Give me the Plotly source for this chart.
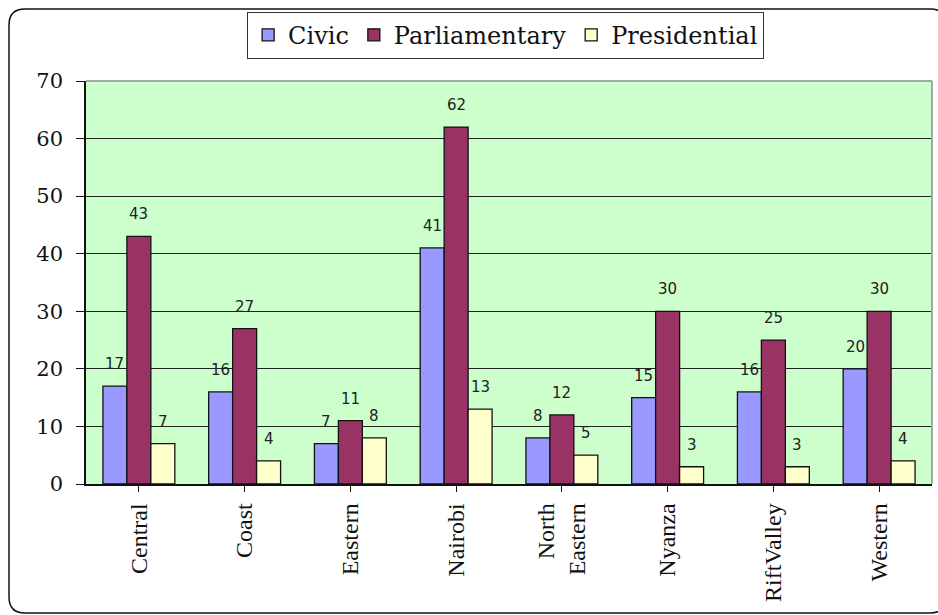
import plotly.graph_objects as go

# Data
regions = ["Central", "Coast", "Eastern", "Nairobi", "North<br>Eastern",
           "Nyanza", "RiftValley", "Western"]
civic = [17, 16, 7, 41, 8, 15, 16, 20]
parliamentary = [43, 27, 11, 62, 12, 30, 25, 30]
presidential = [7, 4, 8, 13, 5, 3, 3, 4]

series = [
    ("Civic", civic, "#9999FF"),
    ("Parliamentary", parliamentary, "#993366"),
    ("Presidential", presidential, "#FFFFCC"),
]

W, H = 938, 615
ML, MR, MT, MB = 86, 6, 81, 131
BARGAP = 0.32

fig = go.Figure()
for name, vals, color in series:
    fig.add_trace(go.Bar(
        name=name, x=list(range(len(regions))), y=vals,
        marker=dict(color=color, line=dict(color="#111111", width=1.3)),
    ))

# value labels above each bar
bw = (1 - BARGAP) / len(series)
annotations = []
for k, (name, vals, color) in enumerate(series):
    off = (k - (len(series) - 1) / 2) * bw
    for i, v in enumerate(vals):
        annotations.append(dict(
            x=i + off, y=v, xref="x", yref="y", text=str(v), showarrow=False,
            yanchor="middle", yshift=22,
            font=dict(family="DejaVu Sans", size=15, color="#222222"),
        ))

# outer rounded frame (pixel geometry converted to paper units)
pw, ph = W - ML - MR, H - MT - MB
def px(x):
    return (x - ML) / pw
def py(y):
    return (H - MB - y) / ph
x0, x1, y0, y1, r = 9, 946, 9, 613, 16
frame = (f"M {px(x0 + r)},{py(y0)} L {px(x1 - r)},{py(y0)} "
         f"Q {px(x1)},{py(y0)} {px(x1)},{py(y0 + r)} "
         f"L {px(x1)},{py(y1 - r)} Q {px(x1)},{py(y1)} {px(x1 - r)},{py(y1)} "
         f"L {px(x0 + r)},{py(y1)} Q {px(x0)},{py(y1)} {px(x0)},{py(y1 - r)} "
         f"L {px(x0)},{py(y0 + r)} Q {px(x0)},{py(y0)} {px(x0 + r)},{py(y0)} Z")

shapes = [
    dict(type="path", path=frame, xref="paper", yref="paper",
         line=dict(color="#111111", width=1.5), layer="below"),
    dict(type="line", xref="paper", yref="paper", x0=0, x1=1, y0=1, y1=1,
         line=dict(color="#A6A6A6", width=2), layer="above"),
    dict(type="line", xref="paper", yref="paper", x0=1, x1=1, y0=0, y1=1,
         line=dict(color="#A6A6A6", width=2), layer="above"),
]

fig.update_layout(
    width=W, height=H,
    margin=dict(l=ML, r=MR, t=MT, b=MB),
    paper_bgcolor="white", plot_bgcolor="#CCFFCC",
    barmode="group", bargap=BARGAP, bargroupgap=0,
    annotations=annotations, shapes=shapes,
    legend=dict(
        orientation="h", x=0.496, xanchor="center", y=1.172, yanchor="top",
        bordercolor="#333333", borderwidth=1, bgcolor="white",
        font=dict(family="DejaVu Serif", size=24, color="#111111"),
        itemwidth=30, tracegroupgap=0,
    ),
    xaxis=dict(
        tickmode="array", tickvals=list(range(len(regions))), ticktext=regions,
        range=[-0.5, len(regions) - 0.5], automargin=False,
        tickangle=-90, tickson="boundaries", ticks="outside", ticklen=6,
        tickcolor="#111111", showline=True, linecolor="#111111", linewidth=1.5,
        showgrid=False, ticklabelstandoff=2,
        tickfont=dict(family="Liberation Serif", size=24, color="#111111"),
    ),
    yaxis=dict(
        range=[0, 70], dtick=10, ticks="outside", ticklen=8, tickcolor="#111111",
        showline=True, linecolor="#111111", linewidth=1.5, automargin=False,
        showgrid=True, gridcolor="#222222", gridwidth=1, zeroline=False,
        ticklabelstandoff=9,
        tickfont=dict(family="DejaVu Serif", size=21, color="#111111"),
    ),
)

fig.write_html("out.html")
